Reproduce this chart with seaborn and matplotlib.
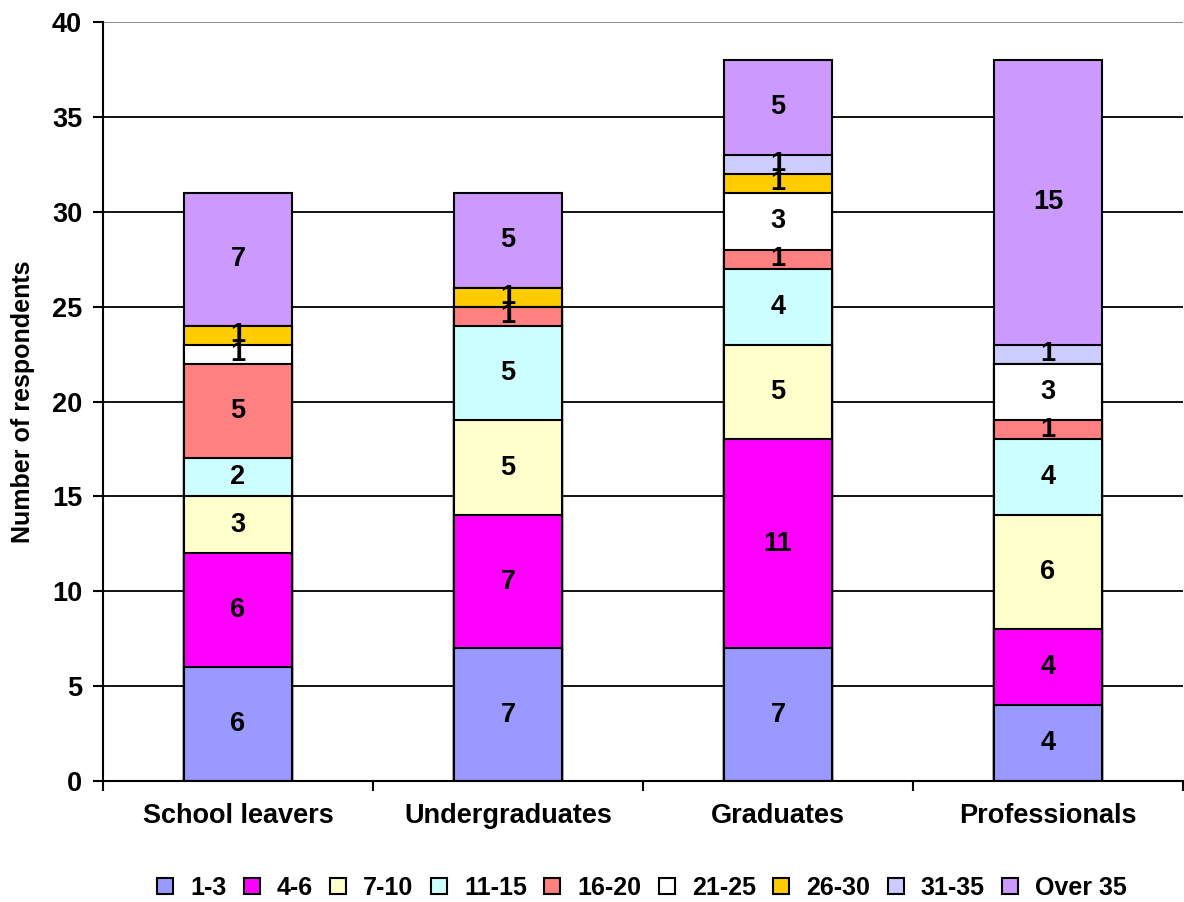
import matplotlib
matplotlib.use("Agg")
import matplotlib.pyplot as plt
from matplotlib.patches import Patch
import numpy as np
import seaborn as sns

# Respondent groups and how many years each group reported
categories = ["School leavers", "Undergraduates", "Graduates", "Professionals"]
series_labels = ["1-3", "4-6", "7-10", "11-15", "16-20", "21-25", "26-30", "31-35", "Over 35"]

yrs_1_3 = [6, 7, 7, 4]
yrs_4_6 = [6, 7, 11, 4]
yrs_7_10 = [3, 5, 5, 6]
yrs_11_15 = [2, 5, 4, 4]
yrs_16_20 = [5, 1, 1, 1]
yrs_21_25 = [1, 0, 3, 3]
yrs_26_30 = [1, 1, 1, 0]
yrs_31_35 = [0, 0, 1, 1]
yrs_over_35 = [7, 5, 5, 15]

colors = ["#9999FF", "#FF00FF", "#FFFFCC", "#CCFFFF", "#FF8080",
          "#FFFFFF", "#FFCC00", "#CCCCFF", "#CC99FF"]

series_values = [yrs_1_3, yrs_4_6, yrs_7_10, yrs_11_15, yrs_16_20,
                 yrs_21_25, yrs_26_30, yrs_31_35, yrs_over_35]

sns.set_theme(style="white")
plt.rcParams["font.family"] = ["Liberation Sans", "DejaVu Sans"]
plt.rcParams["font.weight"] = "bold"
for key in ["text.color", "axes.labelcolor", "xtick.color", "ytick.color"]:
    plt.rcParams[key] = "black"

fig = plt.figure(figsize=(11.84, 9.02), dpi=100)
ax = fig.add_axes([103 / 1184, 1 - 781 / 902, 1080 / 1184, (781 - 22) / 902])

vals = np.array(series_values, dtype=float)
tops = np.cumsum(vals, axis=0)

# Stack by drawing cumulative totals from the top series down
for i in range(len(series_labels) - 1, -1, -1):
    sns.barplot(x=categories, y=tops[i], order=categories, color=colors[i],
                width=0.4, edgecolor="black", linewidth=1.5, saturation=1,
                ax=ax, zorder=3)

# Segment value labels
for i, lab in enumerate(series_labels):
    for j in range(len(categories)):
        v = vals[i, j]
        if v > 0:
            ax.text(j, tops[i, j] - v / 2, f"{int(v)}", ha="center", va="center",
                    fontsize=19.5, fontweight="bold", color="black", zorder=5)

ax.set_xlim(-0.5, 3.5)
ax.set_ylim(0, 40)
ax.set_yticks(np.arange(0, 41, 5))
ax.yaxis.grid(True, color="black", linewidth=1.3, zorder=0)
ax.set_axisbelow(True)
gl = ax.yaxis.get_gridlines()
gl[-1].set_color("#808080")

for s in ["top", "right"]:
    ax.spines[s].set_visible(False)
for s in ["left", "bottom"]:
    ax.spines[s].set_color("black")
    ax.spines[s].set_linewidth(1.5)
    ax.spines[s].set_zorder(4)

ax.set_xticks(np.arange(-0.5, 3.6, 1.0), minor=True)
ax.tick_params(axis="x", which="major", length=0, pad=16, labelsize=19.5)
ax.tick_params(axis="x", which="minor", length=7, width=1.5, color="black",
               direction="out", bottom=True)
ax.tick_params(axis="y", which="major", length=7, width=1.5, color="black",
               direction="out", left=True, pad=8, labelsize=19.5)
for t in ax.get_xticklabels() + ax.get_yticklabels():
    t.set_fontweight("bold")

ax.set_xlabel("")
ax.set_ylabel("Number of respondents", fontsize=18, fontweight="bold", labelpad=12)

handles = [Patch(facecolor=c, edgecolor="black", linewidth=1.5) for c in colors]
fig.legend(handles, series_labels, loc="center", ncol=9, frameon=False,
           bbox_to_anchor=(642 / 1184, 1 - 888 / 902),
           prop={"size": 18, "weight": "bold"},
           handlelength=0.64, handleheight=0.6, handletextpad=0.68,
           columnspacing=0.7, borderaxespad=0, borderpad=0)

fig.savefig("out.png", dpi=100)
